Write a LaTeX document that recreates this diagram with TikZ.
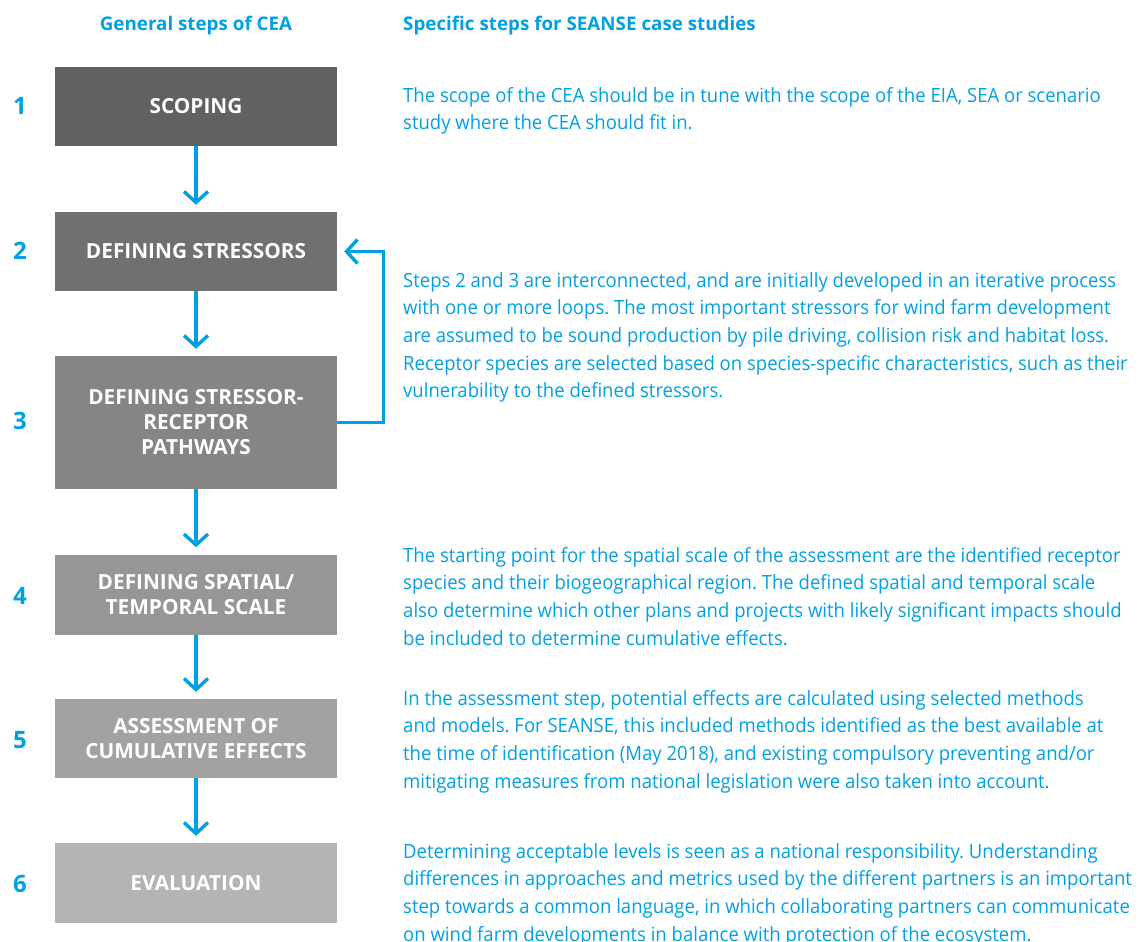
\documentclass[tikz,border=0pt]{standalone}
\usepackage{fontspec}
\setmainfont{Open Sans}
\newfontfamily\bodyfont[FakeStretch=0.945]{Open Sans}
\newfontfamily\boxfont{Open Sans}
\usetikzlibrary{arrows.meta}
\definecolor{cblue}{RGB}{0,160,227}
\definecolor{g1}{RGB}{97,97,97}
\definecolor{g2}{RGB}{112,112,112}
\definecolor{g3}{RGB}{133,133,133}
\definecolor{g4}{RGB}{150,150,150}
\definecolor{g5}{RGB}{162,162,162}
\definecolor{g6}{RGB}{180,180,180}
\newcommand\firstline{\rule{0pt}{13pt}}
\frenchspacing
\begin{document}
\begin{tikzpicture}[x=1pt,y=-1pt,
  stepbox/.style={draw=none,minimum width=282pt,inner sep=0pt,align=center,
    text=white,font=\boxfont\bfseries\fontsize{20.8pt}{25pt}\selectfont},
  numlabel/.style={text=cblue,font=\bfseries\fontsize{24pt}{28pt}\selectfont,inner sep=0pt},
  header/.style={text=cblue,font=\boxfont\bfseries\fontsize{18.8pt}{22pt}\selectfont,inner sep=0pt},
  desc/.style={text=cblue,anchor=north west,inner sep=0pt,align=left,
    font=\bodyfont\fontsize{19.6pt}{27.7pt}\selectfont},
  arr/.style={draw=cblue,line width=3.4pt,-{Straight Barb[length=11pt,width=24pt,line join=miter]}}]
\useasboundingbox (0,0) rectangle (1143,942);
% headers
\node[header] (h1) at (196,26) {General steps of CEA};
\node[header,anchor=west] (h2) at (403,26) {Specific steps for SEANSE case studies};
% boxes
\node[stepbox,fill=g1,minimum height=79pt] (b1) at (196,106.5) {SCOPING};
\node[stepbox,fill=g2,minimum height=79pt] (b2) at (196,251.5) {DEFINING STRESSORS};
\node[stepbox,fill=g3,minimum height=133pt] (b3) at (196,422.5) {DEFINING STRESSOR-\\RECEPTOR\\PATHWAYS};
\node[stepbox,fill=g4,minimum height=80pt] (b4) at (196,594.5) {DEFINING SPATIAL/\\TEMPORAL SCALE};
\node[stepbox,fill=g5,minimum height=79pt] (b5) at (196,738.5) {ASSESSMENT OF\\CUMULATIVE EFFECTS};
\node[stepbox,fill=g6,minimum height=80pt] (b6) at (196,883) {EVALUATION};
% numbers
\node[numlabel] (n1) at (20,106) {1};
\node[numlabel] (n2) at (20,251) {2};
\node[numlabel] (n3) at (20,421) {3};
\node[numlabel] (n4) at (20,596) {4};
\node[numlabel] (n5) at (20,740) {5};
\node[numlabel] (n6) at (20,884) {6};
% arrows
\draw[arr] (b1.south) -- ([yshift=7pt]b2.north);
\draw[arr] (b2.south) -- ([yshift=7pt]b3.north);
\draw[arr] (b3.south) -- ([yshift=7pt]b4.north);
\draw[arr] (b4.south) -- ([yshift=7pt]b5.north);
\draw[arr] (b5.south) -- ([yshift=7pt]b6.north);
\draw[arr] (b3.east) -- ++(46,0) |- ([xshift=7pt]b2.east);
% descriptions
\node[desc] (d1) at (403,87) {\firstline The scope of the CEA should be in tune with the scope of the EIA, SEA or scenario\\study where the CEA should fit in.};
\node[desc] (d2) at (403,272) {\firstline Steps 2 and 3 are interconnected, and are initially developed in an iterative process\\with one or more loops. The most important stressors for wind farm development\\are assumed to be sound production by pile driving, collision risk and habitat loss.\\Receptor species are selected based on species-specific characteristics, such as their\\vulnerability to the defined stressors.};
\node[desc] (d4) at (403,547) {\firstline The starting point for the spatial scale of the assessment are the identified receptor\\species and their biogeographical region. The defined spatial and temporal scale\\also determine which other plans and projects with likely significant impacts should\\be included to determine cumulative effects.};
\node[desc] (d5) at (403,690) {\firstline In the assessment step, potential effects are calculated using selected methods\\and models. For SEANSE, this included methods identified as the best available at\\the time of identification (May 2018), and existing compulsory preventing and/or\\mitigating measures from national legislation were also taken into account.};
\node[desc] (d6) at (403,843) {\firstline Determining acceptable levels is seen as a national responsibility. Understanding\\differences in approaches and metrics used by the different partners is an important\\step towards a common language, in which collaborating partners can communicate\\on wind farm developments in balance with protection of the ecosystem.};
\end{tikzpicture}
\end{document}
